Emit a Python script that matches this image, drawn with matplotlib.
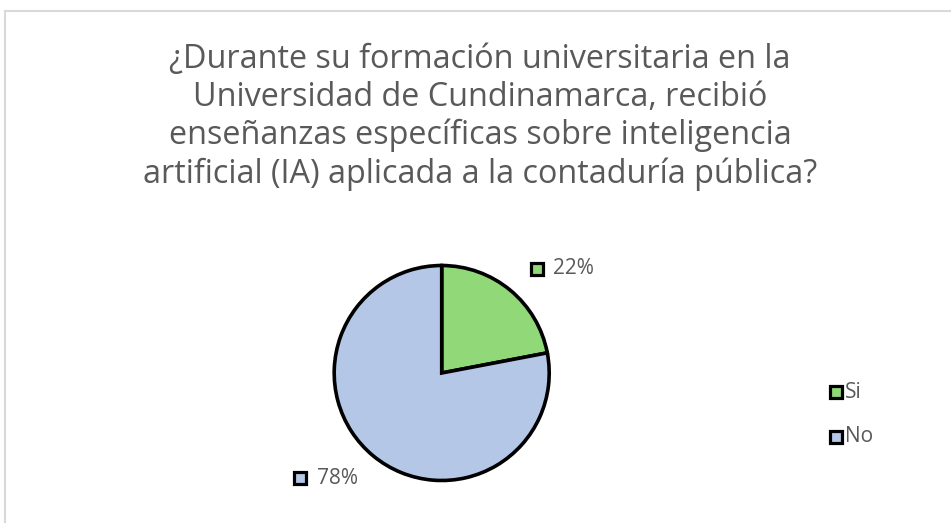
import matplotlib
matplotlib.use("Agg")
import matplotlib.pyplot as plt
from matplotlib.lines import Line2D

# datos de la encuesta
categorias = ["Si", "No"]
porcentajes = [22, 78]
colores = ["#90D878", "#B4C7E7"]
titulo = ("¿Durante su formación universitaria en la\n"
          "Universidad de Cundinamarca, recibió\n"
          "enseñanzas específicas sobre inteligencia\n"
          "artificial (IA) aplicada a la contaduría pública?")

W, H = 951, 523
plt.rcParams['font.family'] = ['Open Sans', 'DejaVu Sans']
gris = "#595959"

fig = plt.figure(figsize=(W / 100, H / 100), dpi=100)


def fx(px):
    return px / W


def fy(py):
    return 1 - py / H


# marco del gráfico (recortado a la derecha y abajo)
fig.add_artist(Line2D([fx(5), 1], [fy(11), fy(11)], color="#D9D9D9", lw=1.5))
fig.add_artist(Line2D([fx(5), fx(5)], [fy(11), 0], color="#D9D9D9", lw=1.5))

# título
fig.text(fx(480), fy(117), titulo, ha='center', va='center', fontsize=23.3,
         color=gris, linespacing=1.2)

# pastel
cx, cy, r = 441.7, 373, 107.5
ax = fig.add_axes([fx(cx - r), fy(cy + r), 2 * r / W, 2 * r / H])
ax.pie(porcentajes, colors=colores, startangle=90, counterclock=False,
       wedgeprops=dict(edgecolor='black', linewidth=2.6))
ax.set_xlim(-1, 1)
ax.set_ylim(-1, 1)
ax.set_aspect('auto')
ax.axis('off')

# etiquetas de datos con clave
pos_etiquetas = [(536.5, 269), (300, 478)]
for (px, py), v, c in zip(pos_etiquetas, porcentajes, colores):
    fig.add_artist(Line2D([fx(px)], [fy(py)], marker='s', ms=8.3, mfc=c,
                          mec='black', mew=2.3, linestyle='none'))
    fig.text(fx(px + 17), fy(py), f"{v}%", ha='left', va='center',
             fontsize=15, color=gris)

# leyenda
pos_leyenda = [(835.5, 392), (835.5, 437)]
for (px, py), cat, c in zip(pos_leyenda, categorias, colores):
    fig.add_artist(Line2D([fx(px)], [fy(py)], marker='s', ms=8.3, mfc=c,
                          mec='black', mew=2.3, linestyle='none'))
    fig.text(fx(px + 9.5), fy(py), cat, ha='left', va='center',
             fontsize=15, color=gris)

fig.savefig("out.png", dpi=100, facecolor='white')
